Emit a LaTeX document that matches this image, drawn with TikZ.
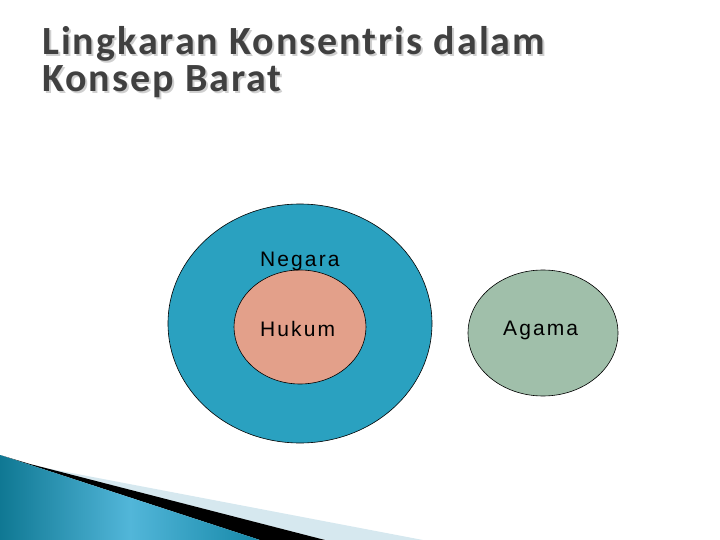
\documentclass[tikz,border=0pt]{standalone}
\usepackage{fontspec}
\setmainfont{Carlito}
\newfontfamily\titlefont[LetterSpace=5]{Carlito}
\newfontfamily\labfont[LetterSpace=10]{Liberation Sans}
\usetikzlibrary{shapes.geometric}
\definecolor{outerblue}{HTML}{2AA1C0}
\definecolor{innerpink}{HTML}{E3A08A}
\definecolor{sagegreen}{HTML}{A0BFAA}
\definecolor{titlegray}{HTML}{404040}
\definecolor{shadowgray}{HTML}{CFCFCF}
\definecolor{darkteal}{HTML}{0F7893}
\definecolor{midteal}{HTML}{52B6D9}
\definecolor{tipteal}{HTML}{1688A8}
\definecolor{paleblue}{HTML}{D6E8EF}
\newcommand{\shadowtext}[1]{\rlap{\kern2pt\raisebox{-2pt}{\textcolor{shadowgray}{#1}}}#1}
\tikzset{
  blob/.style={ellipse, draw=black, line width=0.6pt, inner sep=0pt},
  lab/.style={anchor=base west, inner sep=0pt, font=\labfont\fontsize{21}{25}\selectfont},
  ttl/.style={anchor=base west, inner sep=0pt, font=\titlefont\bfseries\fontsize{40}{46}\selectfont, text=titlegray}
}
\begin{document}
\begin{tikzpicture}[x=1pt,y=-1pt]
\useasboundingbox (0,0) rectangle (720,540);
% bottom-left decoration
\fill[paleblue] (35,466) -- (423,540) -- (325,540) -- cycle;
\fill[black] (30,464) -- (325,540) -- (260,540) -- (0,455) -- cycle;
\shade[left color=darkteal, right color=tipteal, middle color=midteal] (0,455) -- (260,540) -- (0,540) -- cycle;
% title
\node[ttl] (t1) at (42,55) {\shadowtext{Lingkaran Konsentris dalam}};
\node[ttl] (t2) at (42,92) {\shadowtext{Konsep Barat}};
% circles
\node[blob, fill=outerblue, minimum width=264pt, minimum height=239pt] (negara) at (300,323.5) {};
\node[blob, fill=innerpink, minimum width=132pt, minimum height=114pt] (hukum) at (300,327) {};
\node[blob, fill=sagegreen, minimum width=150pt, minimum height=126pt] (agama) at (543,333) {};
\node[lab] (negaratxt) at (260,266) {Negara};
\node[lab] (hukumtxt) at (260,336) {Hukum};
\node[lab] (agamatxt) at (503,335) {Agama};
\end{tikzpicture}
\end{document}
